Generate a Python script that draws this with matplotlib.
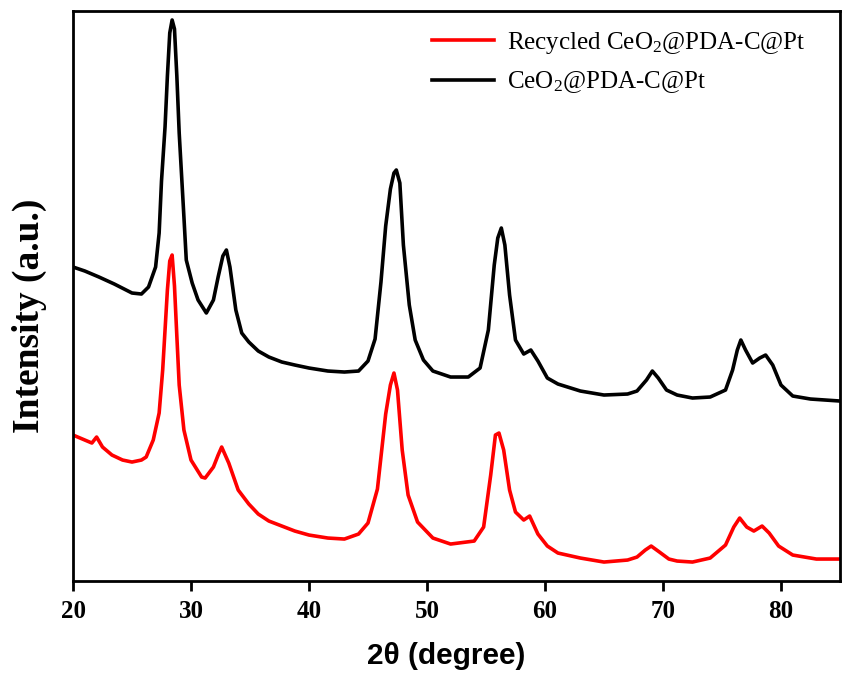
import numpy as np
import matplotlib
matplotlib.use("Agg")
import matplotlib.pyplot as plt

# lecturas del patron XRD (2theta, intensidad en unidades arbitrarias)
theta_fresh = [20.0, 21.0, 22.2, 23.5, 25.0, 25.8, 26.4, 27.0, 27.3, 27.5, 27.8, 28.0, 28.2, 28.4,
               28.6, 28.8, 29.0, 29.4, 29.6, 30.1, 30.6, 31.3, 31.9, 32.3, 32.7, 33.0, 33.3, 33.8,
               34.3, 34.9, 35.7, 36.6, 37.7, 38.8, 40.0, 41.6, 43.0, 44.2, 45.0, 45.6, 46.1, 46.5,
               46.9, 47.2, 47.4, 47.7, 48.0, 48.5, 49.0, 49.7, 50.5, 52.0, 53.5, 54.5, 55.2, 55.7,
               56.0, 56.3, 56.6, 57.0, 57.5, 58.2, 58.8, 59.4, 60.2, 61.1, 63.0, 65.0, 67.0, 67.8,
               68.6, 69.1, 69.6, 70.3, 71.2, 72.5, 74.0, 75.3, 75.9, 76.3, 76.6, 77.0, 77.6, 78.2,
               78.7, 79.3, 80.0, 81.0, 82.5, 85.0]
int_fresh = [314, 310, 304, 297, 288, 287, 294, 314, 348, 400, 454, 505, 548, 561,
             552, 505, 448, 364, 321, 298, 281, 268, 281, 304, 325, 331, 314, 271,
             248, 239, 230, 224, 219, 216, 213, 210, 209, 210, 220, 242, 299, 355,
             392, 408, 411, 398, 336, 276, 241, 221, 210, 204, 204, 213, 251, 316,
             343, 353, 336, 286, 241, 227, 231, 220, 203, 197, 190, 186, 187, 190,
             201, 210, 203, 191, 186, 183, 184, 191, 211, 231, 241, 231, 218, 223,
             226, 216, 196, 185, 182, 180]

theta_rec = [20.0, 21.0, 21.6, 22.0, 22.5, 23.3, 24.2, 25.0, 25.8, 26.2, 26.8, 27.3, 27.6, 27.8,
             28.0, 28.2, 28.4, 28.6, 28.8, 29.0, 29.4, 30.0, 30.9, 31.2, 31.9, 32.3, 32.6, 33.2,
             34.0, 34.9, 35.7, 36.6, 38.8, 40.0, 41.6, 43.0, 44.2, 45.0, 45.8, 46.5, 46.9, 47.2,
             47.5, 47.9, 48.4, 49.2, 50.5, 52.0, 54.0, 54.8, 55.4, 55.8, 56.1, 56.5, 57.0, 57.5,
             58.2, 58.7, 59.4, 60.2, 61.1, 63.0, 65.0, 67.0, 67.8, 68.5, 69.0, 69.7, 70.5, 71.2,
             72.5, 74.0, 75.3, 76.0, 76.5, 77.1, 77.7, 78.4, 79.0, 79.8, 81.0, 83.0, 85.0]
int_rec = [146, 141, 138, 144, 134, 126, 121, 119, 121, 124, 141, 168, 211, 251,
           291, 320, 326, 295, 245, 196, 151, 121, 104, 103, 114, 126, 134, 118,
           91, 77, 67, 60, 50, 46, 43, 42, 47, 58, 92, 167, 196, 208,
           191, 131, 86, 59, 43, 37, 40, 54, 106, 146, 148, 131, 91, 69,
           61, 65, 47, 35, 28, 23, 19, 21, 24, 31, 35, 29, 22, 20,
           19, 23, 36, 54, 63, 54, 50, 55, 48, 35, 26, 22, 22]

plt.rcParams['mathtext.fontset'] = 'custom'
plt.rcParams['mathtext.rm'] = 'Liberation Serif'
plt.rcParams['mathtext.it'] = 'Liberation Serif:italic'
plt.rcParams['mathtext.bf'] = 'Liberation Serif:bold'

fig = plt.figure(figsize=(8.43, 6.78), dpi=100)
ax = fig.add_axes([0.0866, 0.143, 0.9098, 0.8408])

ax.plot(theta_rec, int_rec, color='red', lw=2.6, label='Recycled CeO$_2$@PDA-C@Pt')
ax.plot(theta_fresh, int_fresh, color='black', lw=2.6, label='CeO$_2$@PDA-C@Pt')

ax.set_xlim(20, 85)
ax.set_ylim(0, 570)
ax.set_yticks([])
ax.set_xticks([20, 30, 40, 50, 60, 70, 80])
ax.tick_params(axis='x', direction='out', length=7, width=2, pad=7)
for lbl in ax.get_xticklabels():
    lbl.set_fontfamily('Liberation Serif')
    lbl.set_fontweight('bold')
    lbl.set_fontsize(18)
for sp in ax.spines.values():
    sp.set_linewidth(2)

ax.set_xlabel('2θ (degree)', fontfamily='Liberation Sans', fontweight='bold', fontsize=21.5)
ax.xaxis.set_label_coords(0.487, -0.107)
ax.set_ylabel('Intensity (a.u.)', fontfamily='Liberation Serif', fontweight='bold', fontsize=27)
ax.yaxis.set_label_coords(-0.034, 0.465)

ax.legend(loc='upper left', bbox_to_anchor=(0.455, 0.985), frameon=False,
          prop={'family': 'Liberation Serif', 'size': 18},
          handlelength=2.5, handletextpad=0.5, labelspacing=0.55, borderaxespad=0)

fig.savefig('out.png', dpi=100)
